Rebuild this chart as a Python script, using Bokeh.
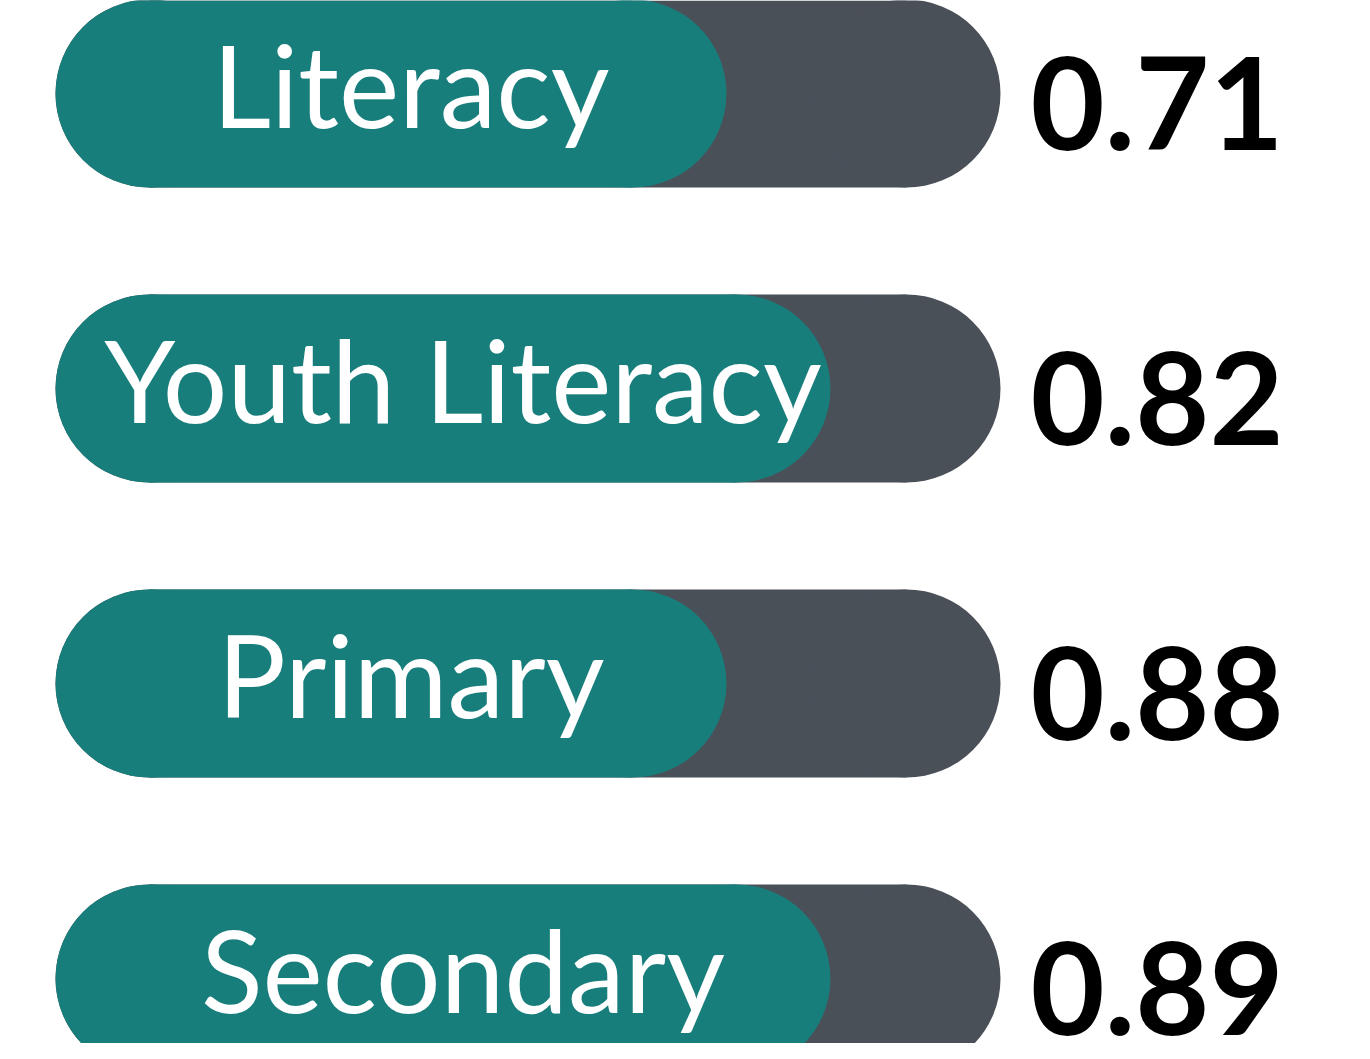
from bokeh.plotting import figure
from bokeh.models import Range1d, ColumnDataSource
from bokeh.core.properties import value
from bokeh.embed import file_html
from bokeh.resources import INLINE

# ---- data ----
categories = ["Literacy", "Youth Literacy", "Primary", "Secondary"]
fill_fraction = [0.71, 0.82, 0.71, 0.82]      # length of the teal part of each pill
value_labels = ["0.71", "0.82", "0.88", "0.89"]  # numbers printed at the right

# ---- layout (pixels) ----
W, H = 1354, 1043
PILL_LEFT_PX = 55          # screen x (within canvas) of value 0
PILL_LEN_PX = 945          # pixels for value 1
ROW0_PX = 93               # screen y (within canvas) of first row centre
ROW_STEP_PX = 295
PILL_H_PX = 188

TEAL = "#187E7C"
DARK = "#4A5058"

x0 = -PILL_LEFT_PX / PILL_LEN_PX
x1 = (W - PILL_LEFT_PX) / PILL_LEN_PX
y_top = -ROW0_PX / ROW_STEP_PX
y_bot = (H - ROW0_PX) / ROW_STEP_PX

p = figure(width=W, height=H, output_backend="svg", toolbar_location=None,
           x_range=Range1d(x0, x1), y_range=Range1d(y_bot, y_top),
           min_border=0, outline_line_color=None, background_fill_color="white")
p.axis.visible = False
p.grid.visible = False

rx = (PILL_H_PX / 2) / PILL_LEN_PX          # cap radius in value units
ph = PILL_H_PX / ROW_STEP_PX                 # pill height in row units
rows = list(range(len(categories)))

src = ColumnDataSource(dict(
    row=rows,
    cat=categories,
    frac=fill_fraction,
    lab=value_labels,
    bg_l=[rx] * len(rows),
    bg_r=[1 - rx] * len(rows),
    fg_r=[f - rx for f in fill_fraction],
    mid=[f / 2 for f in fill_fraction],
    one=[1.0] * len(rows),
))

# background (dark) pill
p.hbar(y="row", left="bg_l", right="bg_r", height=ph, source=src,
       fill_color=DARK, line_color=None)
p.scatter(x="bg_l", y="row", size=PILL_H_PX, source=src, marker="circle",
          fill_color=DARK, line_color=None)
p.scatter(x="bg_r", y="row", size=PILL_H_PX, source=src, marker="circle",
          fill_color=DARK, line_color=None)

# foreground (teal) pill
p.hbar(y="row", left="bg_l", right="fg_r", height=ph, source=src,
       fill_color=TEAL, line_color=None)
p.scatter(x="bg_l", y="row", size=PILL_H_PX, source=src, marker="circle",
          fill_color=TEAL, line_color=None)
p.scatter(x="fg_r", y="row", size=PILL_H_PX, source=src, marker="circle",
          fill_color=TEAL, line_color=None)

# category labels inside the teal part
p.text(x="mid", y="row", text="cat", source=src, text_align="center",
       text_baseline="alphabetic", x_offset=20, y_offset=-10,
       text_font=value("Lato"), text_font_size="114px", text_color="white")

# value labels at the right
p.text(x="one", y="row", text="lab", source=src, text_align="left",
       text_baseline="alphabetic", x_offset=30, y_offset=10,
       text_font=value("Lato"), text_font_style="bold",
       text_font_size="128px", text_color="black")

open("out.html", "w").write(file_html(p, INLINE))
